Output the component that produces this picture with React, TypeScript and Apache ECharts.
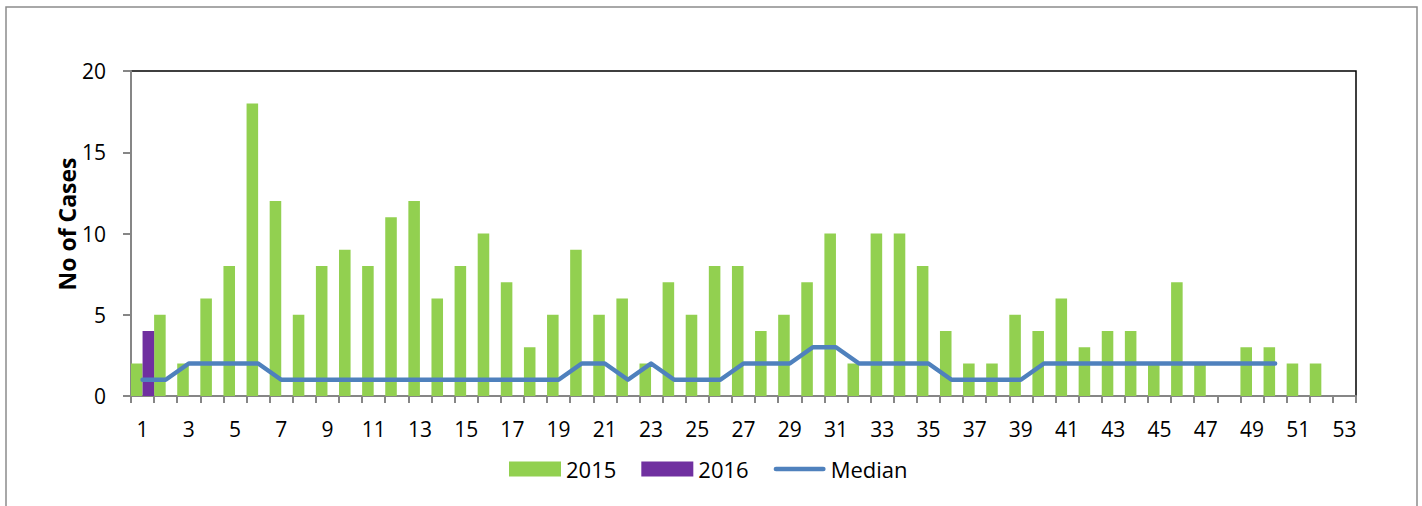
import React, { useEffect, useRef } from "react";
import * as echarts from "echarts";

const weeks: string[] = Array.from({ length: 53 }, (_, i) => String(i + 1));

const cases2015: (number | null)[] = [
  2, 5, 2, 6, 8, 18, 12, 5, 8, 9, 8, 11, 12, 6, 8, 10, 7, 3, 5, 9,
  5, 6, 2, 7, 5, 8, 8, 4, 5, 7, 10, 2, 10, 10, 8, 4, 2, 2, 5, 4,
  6, 3, 4, 4, 2, 7, 2, null, 3, 3, 2, 2, null,
];

const cases2016: (number | null)[] = [
  4, null, null, null, null, null, null, null, null, null, null, null, null, null, null, null, null, null, null, null,
  null, null, null, null, null, null, null, null, null, null, null, null, null, null, null, null, null, null, null, null,
  null, null, null, null, null, null, null, null, null, null, null, null, null,
];

const median: (number | null)[] = [
  1, 1, 2, 2, 2, 2, 1, 1, 1, 1, 1, 1, 1, 1, 1, 1, 1, 1, 1, 2,
  2, 1, 2, 1, 1, 1, 2, 2, 2, 3, 3, 2, 2, 2, 2, 1, 1, 1, 1, 2,
  2, 2, 2, 2, 2, 2, 2, 2, 2, 2, null, null, null,
];

const FONT = "'Open Sans', 'Noto Sans', sans-serif";
const LINE_ICON =
  "path://M2.5,0 L52.5,0 A2.5,2.5 0 0 1 52.5,5 L2.5,5 A2.5,2.5 0 0 1 2.5,0 Z";

export default function App() {
  const ref = useRef<HTMLDivElement>(null);
  useEffect(() => {
    if (!ref.current) return;
    const chart = echarts.init(ref.current, undefined, { renderer: "svg" });
    chart.setOption({
      animation: false,
      backgroundColor: "#ffffff",
      grid: {
        left: 131,
        right: 66,
        top: 71,
        bottom: 110,
        show: true,
        borderColor: "#000000",
        borderWidth: 1.5,
        backgroundColor: "transparent",
      },
      legend: {
        left: 504,
        top: 453,
        itemWidth: 52,
        itemHeight: 15,
        itemGap: 25,
        symbolKeepAspect: true,
        textStyle: { fontFamily: FONT, fontSize: 22, color: "#000" },
        data: [
          { name: "2015", icon: "rect" },
          { name: "2016", icon: "rect" },
          { name: "Median", icon: LINE_ICON, itemStyle: { color: "#4F81BD", borderWidth: 0 } },
        ],
      },
      xAxis: {
        type: "category",
        data: weeks,
        boundaryGap: true,
        axisLine: { lineStyle: { color: "#868686", width: 2 } },
        axisTick: {
          show: true,
          interval: 0,
          length: 7,
          lineStyle: { color: "#868686", width: 2 },
        },
        axisLabel: {
          interval: 1,
          margin: 22,
          fontFamily: FONT,
          fontSize: 21,
          color: "#000",
        },
        splitLine: { show: false },
      },
      yAxis: {
        type: "value",
        min: 0,
        max: 20,
        interval: 5,
        axisLine: { show: true, lineStyle: { color: "#868686", width: 2 } },
        axisTick: {
          show: true,
          inside: false,
          length: 8,
          lineStyle: { color: "#868686", width: 2 },
        },
        axisLabel: {
          margin: 25,
          fontFamily: FONT,
          fontSize: 21,
          color: "#000",
        },
        splitLine: { show: false },
      },
      graphic: [
        {
          type: "rect",
          shape: { x: 6, y: 7, width: 1411, height: 530 },
          style: { fill: "none", stroke: "#8c8c8c", lineWidth: 1.5 },
          silent: true,
        },
        {
          type: "text",
          x: 67,
          y: 224,
          rotation: Math.PI / 2,
          style: {
            text: "No of Cases",
            fontFamily: FONT,
            fontSize: 23,
            fontWeight: "bold",
            fill: "#000",
            align: "center",
            verticalAlign: "middle",
          },
          silent: true,
        },
      ],
      series: [
        {
          name: "2015",
          type: "bar",
          data: cases2015,
          barGap: "0%",
          barCategoryGap: "0%",
          itemStyle: { color: "#92D050" },
        },
        {
          name: "2016",
          type: "bar",
          data: cases2016,
          barGap: "0%",
          barCategoryGap: "0%",
          itemStyle: { color: "#7030A0" },
        },
        {
          name: "Median",
          type: "line",
          data: median,
          symbol: "none",
          itemStyle: { color: "#4F81BD" },
          lineStyle: { color: "#4F81BD", width: 4.5, cap: "round", join: "round" },
          z: 5,
        },
      ],
    });
    return () => chart.dispose();
  }, []);
  return (
    <div
      ref={ref}
      style={{ position: "fixed", left: 0, top: 0, width: 1422, height: 506 }}
    />
  );
}
